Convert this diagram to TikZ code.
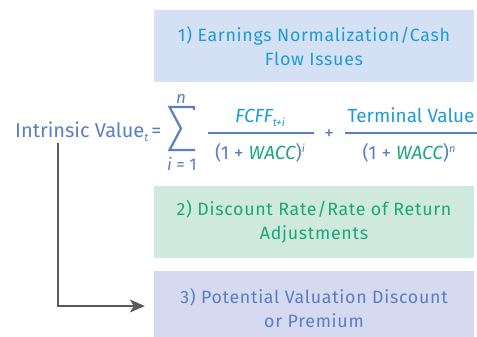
\documentclass[tikz,border=0pt]{standalone}
\usepackage{fontspec}
\usepackage{graphicx}
\setmainfont{Fira Sans}
\newfontfamily\boxfont{Fira Sans}[LetterSpace=4]
\usetikzlibrary{arrows.meta}
\definecolor{slate}{HTML}{5B7DC4}
\definecolor{skyblue}{HTML}{1E9BD7}
\definecolor{teal}{HTML}{1AA87B}
\definecolor{fillone}{HTML}{D4E1F4}
\definecolor{filltwo}{HTML}{CFE9DF}
\definecolor{fillthree}{HTML}{D5DAF0}
\definecolor{arrowgray}{HTML}{595959}
\begin{document}
\begin{tikzpicture}[x=1pt,y=-1pt,
  box/.style={minimum width=320pt, minimum height=72pt, inner sep=0pt,
    align=center, font=\boxfont\fontsize{17.8}{24}\selectfont},
  formula/.style={inner sep=0pt, text=slate, font=\fontsize{19}{19}\selectfont},
  fracbar/.style={draw=slate, line width=1.4pt},
  arrowline/.style={draw=arrowgray, line width=1.6pt,
    -{Stealth[length=15pt,width=13pt,inset=4pt]}}]
\clip (0,0) rectangle (477,337);

% the three adjustment boxes
\node[box, fill=fillone, text=skyblue] (box1) at (314,46)
  {1) Earnings Normalization/Cash\\Flow Issues};
\node[box, fill=filltwo, text=teal] (box2) at (314,222)
  {2) Discount Rate/Rate of Return\\Adjustments};
\node[box, fill=fillthree, text=slate, minimum height=74pt] (box3) at (314,308)
  {3) Potential Valuation Discount\\or Premium};

% valuation formula
\node[formula, anchor=base west, font=\fontsize{20}{20}\selectfont] (iv) at (15,137)
  {Intrinsic Value\raisebox{-4pt}{\fontsize{11}{11}\selectfont\itshape t}\hspace{3pt}=};

% summation sign
\draw[slate, line width=2.2pt, line join=miter]
  (194,109.8) -- (194,107) -- (169.5,107) -- (181,128.5) -- (169.5,150) -- (195,150);
\node[formula, anchor=base, font=\fontsize{17}{17}\selectfont\itshape] (upper) at (181,103) {n};
\node[formula, anchor=base, font=\fontsize{17}{17}\selectfont] (lower) at (182,170) {\textit{i} = 1};

\coordinate (barAl) at (208,133);
\coordinate (barAr) at (314,133);
\draw[fracbar] (barAl) -- (barAr);
\node[formula, anchor=base, text=skyblue] (numA) at (260,122)
  {\itshape FCFF\raisebox{-5pt}{\fontsize{11}{11}\selectfont t+i}};
\node[formula, anchor=base] (denA) at (260,159)
  {(1 + \textcolor{teal}{\itshape WACC})\raisebox{6pt}{\fontsize{11}{11}\selectfont\itshape i}};

\node[formula, font=\fontsize{19}{19}\selectfont] (plus) at (329,135) {+};

\coordinate (barBl) at (345,133);
\coordinate (barBr) at (477,133);
\draw[fracbar] (barBl) -- (barBr);
\node[formula, anchor=base, text=skyblue] (numB) at (411,122) {Terminal Value};
\node[formula, anchor=base] (denB) at (409,159)
  {(1 + \textcolor{teal}{\itshape WACC})\raisebox{6pt}{\fontsize{11}{11}\selectfont\itshape n}};

% connector from the formula to the third box
\coordinate (start) at (58,143);
\draw[arrowline, shorten >=9pt] (start) |- ([yshift=2pt]box3.west);
\end{tikzpicture}
\end{document}
